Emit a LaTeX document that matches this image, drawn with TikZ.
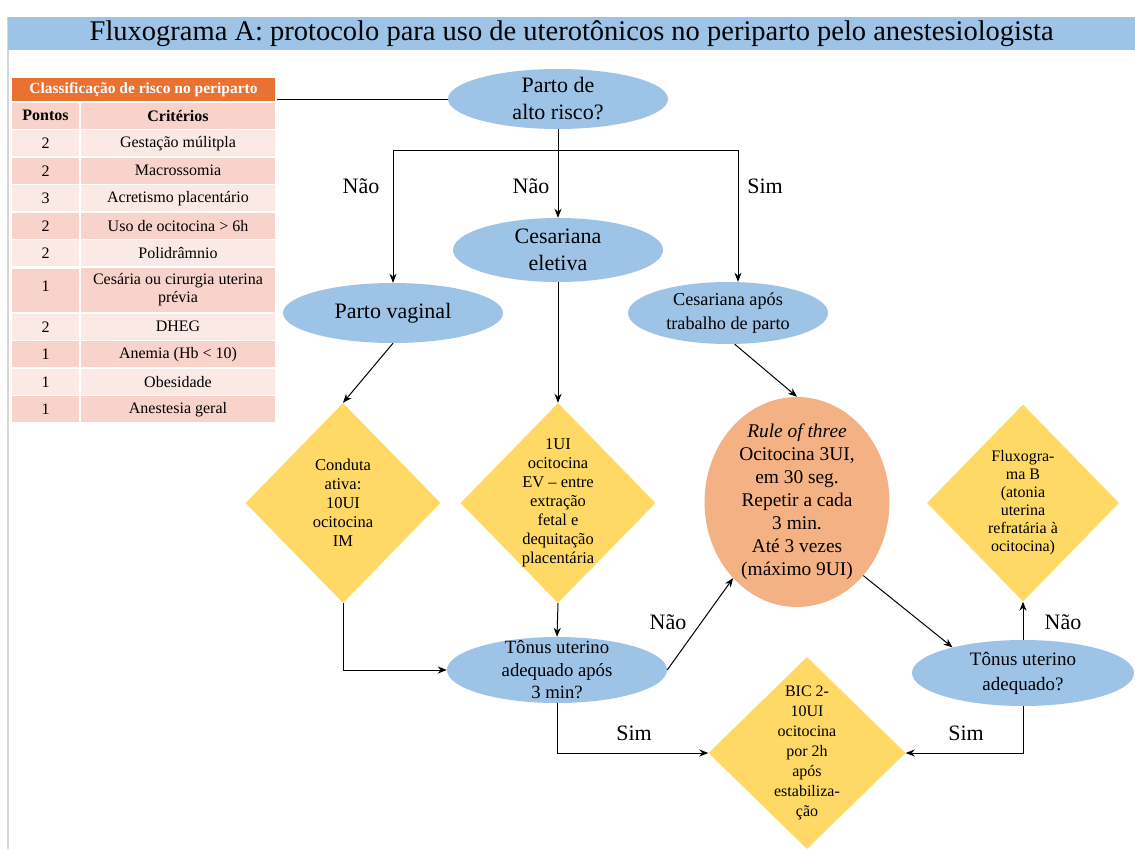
\documentclass[tikz,border=0pt]{standalone}
\usepackage{fontspec}
\setmainfont{Liberation Serif}
\usepackage{tikz}
\usetikzlibrary{shapes.geometric, arrows.meta, positioning, calc}
\usepackage{xcolor}
\definecolor{FluxBlue}{HTML}{9DC3E6}
\definecolor{FluxYellow}{HTML}{FFD966}
\definecolor{FluxSalmon}{HTML}{F4B183}
\definecolor{FluxOrange}{HTML}{E97132}
\definecolor{FluxRoseDark}{HTML}{F8D3CB}
\definecolor{FluxRoseLight}{HTML}{FBE9E5}
\definecolor{FluxGray}{HTML}{D4D4D4}
\definecolor{FluxBlack}{HTML}{000000}
\tikzset{
    % Shape styles
    question/.style={
        ellipse,
        fill=FluxBlue,
        draw=none,
        inner xsep=0pt,
        inner ysep=-14pt,
        align=center,
        font=\fontsize{22}{27}\selectfont
    },
    dose/.style={
        diamond,
        fill=FluxYellow,
        draw=none,
        aspect=1,
        inner sep=-8pt,
        align=center,
        font=\fontsize{16.5}{19}\selectfont
    },
    threebox/.style={
        ellipse,
        fill=FluxSalmon,
        draw=none,
        inner xsep=0pt,
        inner ysep=-10pt,
        align=center,
        font=\fontsize{19.4}{23}\selectfont
    },
    % Table styles
    cell/.style={
        rectangle,
        draw=white,
        line width=1.5pt,
        inner sep=0pt,
        align=center,
        font=\fontsize{16}{18}\selectfont
    },
    ptscell/.style={cell, minimum width=69pt, minimum height=27.5pt},
    critcell/.style={cell, minimum width=196pt, minimum height=27.5pt},
    % Arrow styles
    arrow/.style={
        ->,
        >={Stealth[length=9pt, width=7pt]},
        line width=1pt,
        draw=FluxBlack
    },
    plainline/.style={
        line width=1pt,
        draw=FluxBlack
    },
    answer/.style={font=\fontsize{22}{24}\selectfont}
}

\begin{document}
\begin{tikzpicture}[x=1pt, y=-1pt]
    \useasboundingbox (0,0) rectangle (1135,849);
    \draw[FluxGray, line width=1.5pt] (8,17) -- (8,849);

    % Title
    \node[fill=FluxBlue, anchor=north west, minimum width=1127pt, minimum height=33pt,
          inner sep=0pt, font=\fontsize{28.5}{30}\selectfont] (title) at (8,17)
        {Fluxograma A: protocolo para uso de uterotônicos no periparto pelo anestesiologista};

    % Risk table
    \node[cell, fill=FluxOrange, text=white, minimum width=265pt, minimum height=25pt,
          font=\bfseries\fontsize{15.5}{17}\selectfont] (riskhead) at (143.5,89.5)
        {Classificação de risco no periparto};
    \node[ptscell, fill=FluxRoseDark, font=\bfseries\fontsize{16}{18}\selectfont] (p0) at (45.5,115.75) {Pontos};
    \node[critcell, fill=FluxRoseDark, font=\bfseries\fontsize{16}{18}\selectfont] (c0) at (178,115.75) {Critérios};
    \node[ptscell, fill=FluxRoseLight] (p1) at (45.5,143.25) {2};
    \node[critcell, fill=FluxRoseLight] (c1) at (178,143.25) {Gestação múlitpla};
    \node[ptscell, fill=FluxRoseDark] (p2) at (45.5,170.75) {2};
    \node[critcell, fill=FluxRoseDark] (c2) at (178,170.75) {Macrossomia};
    \node[ptscell, fill=FluxRoseLight] (p3) at (45.5,198.25) {3};
    \node[critcell, fill=FluxRoseLight] (c3) at (178,198.25) {Acretismo placentário};
    \node[ptscell, fill=FluxRoseDark] (p4) at (45.5,225.75) {2};
    \node[critcell, fill=FluxRoseDark] (c4) at (178,225.75) {Uso de ocitocina > 6h};
    \node[ptscell, fill=FluxRoseLight] (p5) at (45.5,253.25) {2};
    \node[critcell, fill=FluxRoseLight] (c5) at (178,253.25) {Polidrâmnio};
    \node[ptscell, fill=FluxRoseDark, minimum height=46pt, anchor=north] (p6) at (45.5,267) {\\[-17pt]1};
    \node[critcell, fill=FluxRoseDark, minimum height=46pt] (c6) at (178,290) {Cesária ou cirurgia uterina\\prévia};
    \node[ptscell, fill=FluxRoseLight] (p7) at (45.5,326.75) {2};
    \node[critcell, fill=FluxRoseLight] (c7) at (178,326.75) {DHEG};
    \node[ptscell, fill=FluxRoseDark] (p8) at (45.5,354.25) {1};
    \node[critcell, fill=FluxRoseDark] (c8) at (178,354.25) {Anemia (Hb < 10)};
    \node[ptscell, fill=FluxRoseLight] (p9) at (45.5,381.75) {1};
    \node[critcell, fill=FluxRoseLight] (c9) at (178,381.75) {Obesidade};
    \node[ptscell, fill=FluxRoseDark] (p10) at (45.5,409.25) {1};
    \node[critcell, fill=FluxRoseDark] (c10) at (178,409.25) {Anestesia geral};

    % Flow
    \node[question, minimum width=220pt, minimum height=60pt] (altorisco) at (558,99) {Parto de\\alto risco?};
    \node[question, minimum width=210pt, minimum height=64pt] (eletiva) at (558,250) {Cesariana\\eletiva};
    \node[question, minimum width=220pt, minimum height=60pt] (vaginal) at (393,313) {Parto vaginal};
    \node[question, minimum width=200pt, minimum height=62pt,
          font=\fontsize{18.2}{24}\selectfont] (aposTP) at (728,313) {Cesariana após\\trabalho de parto};

    \node[dose, minimum width=195pt, minimum height=200pt] (conduta) at (343,503)
        {Conduta\\ativa:\\10UI\\ocitocina\\IM};
    \node[dose, minimum width=195pt, minimum height=200pt] (ev) at (558,503)
        {1UI\\ocitocina\\EV -- entre\\extração\\fetal e\\dequitação\\placentária};
    \node[threebox, minimum width=185pt, minimum height=210pt] (threerule) at (797,502)
        {\textit{Rule of three}\\Ocitocina 3UI,\\em 30 seg.\\Repetir a cada\\3 min.\\Até 3 vezes\\(máximo 9UI)};
    \node[dose, minimum width=192pt, minimum height=197pt,
          font=\fontsize{16}{18}\selectfont] (fluxB) at (1023,503)
        {Fluxogra-\\ma B\\(atonia\\uterina\\refratária à\\ocitocina)};

    \node[question, minimum width=220pt, minimum height=66pt,
          font=\fontsize{18.7}{22.5}\selectfont] (tonusA) at (557,670) {Tônus uterino\\adequado após\\3 min?};
    \node[question, minimum width=222pt, minimum height=66pt,
          font=\fontsize{19}{25}\selectfont] (tonusB) at (1023,673) {Tônus uterino\\adequado?};
    \node[dose, minimum width=197pt, minimum height=192pt,
          font=\fontsize{16}{20}\selectfont] (bic) at (807,753)
        {BIC 2-\\10UI\\ocitocina\\por 2h\\após\\estabiliza-\\ção};

    % Connectors
    \coordinate (splitL) at (393,150);
    \coordinate (splitR) at (738,150);
    \draw[plainline] (riskhead.east |- altorisco.west) -- (altorisco.west);
    \draw[arrow] (altorisco.south) -- (eletiva.north);
    \draw[plainline] (splitL) -- (splitR);
    \draw[arrow] (splitL) -- (vaginal.north);
    \draw[arrow] (splitR) -- (splitR |- aposTP.north);
    \draw[arrow] (vaginal.south) -- (conduta.north);
    \draw[arrow] (eletiva.south) -- (ev.north);
    \draw[arrow] (aposTP.-78) -- (threerule.north);
    \draw[arrow] (conduta.south) |- (tonusA.west);
    \draw[arrow] (ev.south) -- (tonusA.north);
    \draw[arrow] (tonusA.east) -- (threerule.230);
    \draw[arrow] (threerule.-48) -- (tonusB.160);
    \draw[arrow] (tonusB.north) -- (fluxB.south);
    \draw[arrow] (tonusA.south) |- (bic.west);
    \draw[arrow] (tonusB.south) |- (bic.east);

    % Answers
    \node[answer] (nao1) at (361,186) {Não};
    \node[answer] (nao2) at (531,186) {Não};
    \node[answer] (sim1) at (765,186) {Sim};
    \node[answer] (nao3) at (668,622) {Não};
    \node[answer] (nao4) at (1063,622) {Não};
    \node[answer] (sim2) at (634,733) {Sim};
    \node[answer] (sim3) at (966,733) {Sim};
\end{tikzpicture}
\end{document}
